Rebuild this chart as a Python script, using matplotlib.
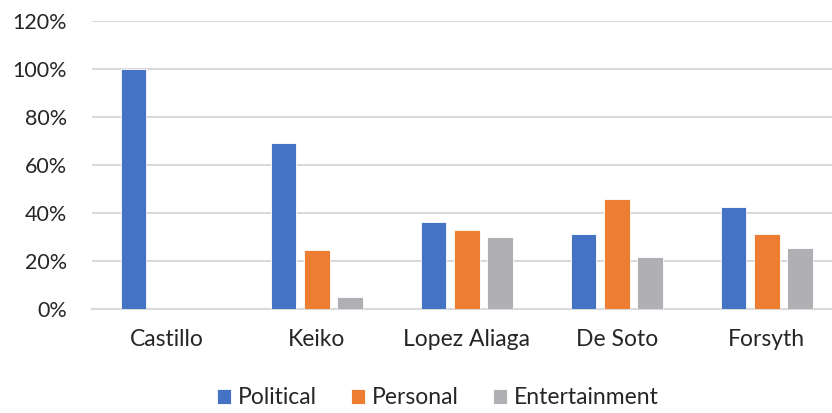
import matplotlib
matplotlib.use("Agg")
import matplotlib.pyplot as plt
import numpy as np

categories = ["Castillo", "Keiko", "Lopez Aliaga", "De Soto", "Forsyth"]
political = [100.0, 69.4, 36.3, 31.4, 42.8]
personal = [np.nan, 24.7, 33.0, 46.1, 31.4]
entertainment = [np.nan, 5.0, 30.0, 21.7, 25.4]
series_names = ["Political", "Personal", "Entertainment"]
colors = ["#4472C4", "#ED7D31", "#B0B0B4"]
yticks = [0, 20, 40, 60, 80, 100, 120]

plt.rcParams['font.family'] = ['Lato', 'DejaVu Sans']

fig = plt.figure(figsize=(8.32, 4.13), dpi=100)
ax = fig.add_axes([91.8/832, (413-309.3)/413, 750/832, 288/413])

x = np.arange(len(categories))
pitch = 0.222
width = 0.173
handles = []
for i, (vals, name, c) in enumerate(zip([political, personal, entertainment], series_names, colors)):
    h = ax.bar(x + (i-1)*pitch, vals, width, color=c, label=name, edgecolor="white", linewidth=0.6, zorder=3)
    handles.append(h)

txt = "#262626"
ax.set_xlim(-0.5, len(categories)-0.5)
ax.set_ylim(0, 120)
ax.set_yticks(yticks)
ax.set_yticklabels([f"{v}%" for v in yticks], fontsize=15.5, color=txt)
ax.set_xticks(x)
ax.set_xticklabels(categories, fontsize=16.5, color=txt)
ax.tick_params(axis="both", length=0)
ax.tick_params(axis="y", pad=18)
ax.tick_params(axis="x", pad=14)
ax.yaxis.grid(True, color="#D9D9D9", linewidth=1.5, zorder=0)
for s in ["top", "right", "left"]:
    ax.spines[s].set_visible(False)
ax.spines["bottom"].set_color("#D9D9D9")
ax.spines["bottom"].set_linewidth(1.5)

fig.legend(handles=handles, labels=series_names, loc="center", ncol=3,
           bbox_to_anchor=(438/832, (413-398)/413), frameon=False, fontsize=16.5,
           handlelength=0.6, handleheight=0.6, handletextpad=0.3, columnspacing=1.5,
           labelcolor=txt)

fig.savefig("out.png", dpi=100, facecolor="white")
